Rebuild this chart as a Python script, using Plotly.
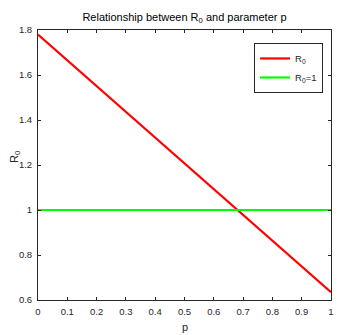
import plotly.graph_objects as go

# data
p = [0.0, 1.0]
r0 = [1.78, 0.635]
r0_threshold = [1.0, 1.0]

x_ticks = [0, 0.1, 0.2, 0.3, 0.4, 0.5, 0.6, 0.7, 0.8, 0.9, 1]
y_ticks = [0.6, 0.8, 1, 1.2, 1.4, 1.6, 1.8]

fig = go.Figure()
fig.add_trace(go.Scatter(x=p, y=r0, mode="lines", name="R<sub>0</sub>",
                         line=dict(color="#ff0000", width=2.2)))
fig.add_trace(go.Scatter(x=p, y=r0_threshold, mode="lines", name="R<sub>0</sub>=1",
                         line=dict(color="#00ff00", width=2.2)))

axis_common = dict(showgrid=False, zeroline=False, showline=True, linecolor="#262626",
                   linewidth=1, mirror="allticks", ticks="inside", ticklen=3,
                   tickcolor="#262626", tickfont=dict(size=9.5, color="#262626"),
                   automargin=False)

# the page body has an 8px margin, so the figure is 8px smaller each way
fig.update_layout(
    width=346, height=327,
    margin=dict(l=30, r=23, t=22, b=35),
    paper_bgcolor="white", plot_bgcolor="white",
    font=dict(family="Liberation Sans, Arial, sans-serif", color="#262626"),
    title=dict(text="Relationship between R<sub>0</sub> and parameter p",
               x=0.5, xanchor="center", xref="paper", y=0.972, yanchor="middle",
               font=dict(size=11, color="#000000")),
    xaxis=dict(range=[0, 1], tickvals=x_ticks, ticklabelstandoff=3, **axis_common),
    yaxis=dict(range=[0.6, 1.8], tickvals=y_ticks, ticklabelstandoff=3, **axis_common),
    legend=dict(x=0.973, y=0.952, xanchor="right", yanchor="top",
                bordercolor="#262626", borderwidth=1, bgcolor="white",
                font=dict(size=9.5), itemwidth=30, tracegroupgap=0),
    showlegend=True,
)

# axis titles as annotations so they sit exactly where the reference has them
fig.add_annotation(text="p", xref="paper", yref="paper", x=0.5, y=0, yshift=-27,
                   xanchor="center", yanchor="middle", showarrow=False,
                   font=dict(size=11, color="#262626"))
fig.add_annotation(text="R<sub>0</sub>", xref="paper", yref="paper", x=0, y=0.53, xshift=-23,
                   xanchor="center", yanchor="middle", textangle=-90, showarrow=False,
                   font=dict(size=11, color="#262626"))

fig.write_html("out.html")
